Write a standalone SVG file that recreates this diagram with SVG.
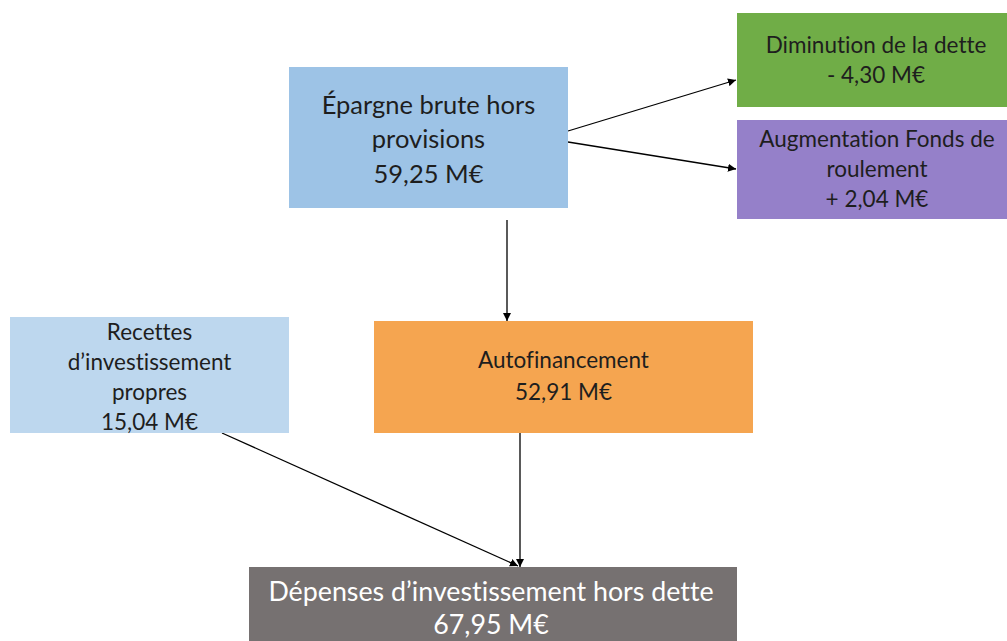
<svg xmlns="http://www.w3.org/2000/svg" width="1007" height="641" viewBox="0 0 1007 641">
<defs>
<marker id="arr" viewBox="0 0 10 10" refX="10" refY="5" markerWidth="8" markerHeight="8" markerUnits="userSpaceOnUse" orient="auto">
<path d="M0,0 L10,5 L0,10 z" fill="#000"/>
</marker>
<style>
text{font-family:Lato,"Liberation Sans",sans-serif;font-size:22.5px;fill:#1e1e1e;text-anchor:middle;font-variant-ligatures:none;font-feature-settings:"liga" 0}
.big{font-size:25.5px}
.dep{font-size:26.8px}
.w{fill:#ffffff}
.c{stroke:#000;stroke-width:1.3;fill:none;marker-end:url(#arr)}
</style>
</defs>
<rect width="1007" height="641" fill="#ffffff"/>
<g id="connectors">
<line class="c" x1="568" y1="131" x2="736" y2="80"/>
<line class="c" x1="568" y1="142" x2="736" y2="169"/>
<line class="c" x1="507" y1="220" x2="507" y2="321"/>
<line class="c" x1="520" y1="433" x2="520" y2="567"/>
<line class="c" x1="222" y1="433" x2="518" y2="566"/>
</g>
<g id="epargne">
<rect x="289" y="67" width="279" height="141" fill="#9DC3E6"/>
<text class="big" x="428.5" y="114">Épargne brute hors</text>
<text class="big" x="428.5" y="148">provisions</text>
<text class="big" x="428.5" y="183">59,25 M€</text>
</g>
<g id="diminution">
<rect x="737" y="13" width="270" height="94" fill="#70AD47"/>
<text x="876" y="53">Diminution de la dette</text>
<text x="876" y="83">- 4,30 M€</text>
</g>
<g id="augmentation">
<rect x="737" y="120" width="270" height="99" fill="#9580C9"/>
<text x="877" y="147">Augmentation Fonds de</text>
<text x="877" y="177">roulement</text>
<text x="877" y="207">+ 2,04 M€</text>
</g>
<g id="recettes">
<rect x="10" y="317" width="279" height="116" fill="#BDD7EE"/>
<text x="149.5" y="340">Recettes</text>
<text x="149.5" y="370">d’investissement</text>
<text x="149.5" y="400">propres</text>
<text x="149.5" y="430">15,04 M€</text>
</g>
<g id="autofinancement">
<rect x="374" y="321" width="379" height="112" fill="#F5A550"/>
<text x="563.5" y="368">Autofinancement</text>
<text x="563.5" y="400">52,91 M€</text>
</g>
<g id="depenses">
<rect x="249" y="567" width="488" height="74" fill="#767171"/>
<text class="w dep" x="491" y="601">Dépenses d’investissement hors dette</text>
<text class="w dep" x="491" y="634">67,95 M€</text>
</g>
</svg>
